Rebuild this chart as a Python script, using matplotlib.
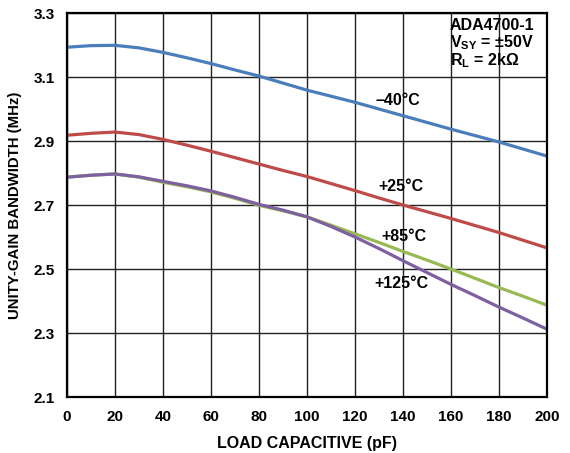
import numpy as np
import matplotlib.pyplot as plt

plt.rcParams['font.family'] = ['Liberation Sans', 'DejaVu Sans']
plt.rcParams['font.weight'] = 'bold'
plt.rcParams['mathtext.default'] = 'regular'

# load capacitance (pF)
cap = [0, 10, 20, 30, 40, 50, 60, 70, 80, 90, 100,
       110, 120, 130, 140, 150, 160, 170, 180, 190, 200]

# unity-gain bandwidth (MHz) per temperature
bw_m40 = [3.193, 3.198, 3.199, 3.191, 3.177, 3.160, 3.142, 3.122, 3.103, 3.081, 3.059,
          3.040, 3.021, 3.000, 2.979, 2.958, 2.937, 2.917, 2.897, 2.875, 2.853]
bw_p25 = [2.918, 2.924, 2.928, 2.920, 2.905, 2.887, 2.868, 2.848, 2.828, 2.808, 2.789,
          2.767, 2.745, 2.722, 2.700, 2.679, 2.658, 2.636, 2.614, 2.590, 2.566]
bw_p85 = [2.787, 2.793, 2.797, 2.787, 2.771, 2.757, 2.741, 2.721, 2.699, 2.682, 2.663,
          2.637, 2.610, 2.583, 2.555, 2.528, 2.500, 2.471, 2.442, 2.415, 2.387]
bw_p125 = [2.787, 2.793, 2.797, 2.788, 2.774, 2.760, 2.744, 2.724, 2.702, 2.684, 2.663,
           2.633, 2.600, 2.564, 2.526, 2.489, 2.452, 2.417, 2.381, 2.347, 2.312]

labels = ['\u201340\u00b0C', '+25\u00b0C', '+85\u00b0C', '+125\u00b0C']
label_pos = [(138, 3.026), (139, 2.758), (140.4, 2.603), (139.5, 2.456)]
colors = ['#4a7ebb', '#be4b48', '#98b954', '#7d60a0']

note_lines = ['ADA4700-1', 'V$_{SY}$ = \u00b150V', 'R$_{L}$ = 2k\u03a9']
note_y = [3.247, 3.1935, 3.137]

fig = plt.figure(figsize=(5.7, 4.53), dpi=100)
ax = fig.add_axes([0.1175, 0.1236, 0.842, 0.8477])

for y, c in zip([bw_m40, bw_p25, bw_p85, bw_p125], colors):
    ax.plot(cap, y, color=c, lw=2.3, solid_capstyle='round')

for t, (x, y) in zip(labels, label_pos):
    ax.text(x, y, t, ha='center', va='center', fontsize=11.5, fontweight='bold')

for t, y in zip(note_lines, note_y):
    ax.text(159.6, y, t, ha='left', va='baseline', fontsize=11.5, fontweight='bold')

ax.set_xlim(0, 200)
ax.set_ylim(2.1, 3.3)
ax.set_xticks(np.arange(0, 201, 20))
ax.set_yticks([2.1, 2.3, 2.5, 2.7, 2.9, 3.1, 3.3])
ax.set_yticklabels(['2.1', '2.3', '2.5', '2.7', '2.9', '3.1', '3.3'])
ax.tick_params(length=0, labelsize=11, pad=9)
ax.grid(True, color='#222222', lw=1.0)
ax.set_axisbelow(True)
for s in ax.spines.values():
    s.set_linewidth(1.6)
    s.set_color('black')

ax.set_xlabel('LOAD CAPACITIVE (pF)', fontsize=11.5, fontweight='bold', labelpad=9)
ax.set_ylabel('UNITY-GAIN BANDWIDTH (MHz)', fontsize=10.8, fontweight='bold', labelpad=8)

fig.savefig('out.png', dpi=100)
